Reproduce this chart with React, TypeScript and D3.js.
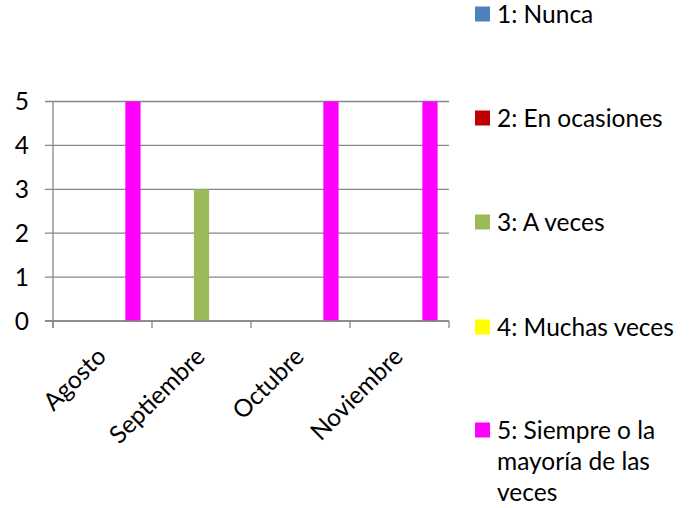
import React, { useEffect, useRef } from 'react';
import * as d3 from 'd3';

const categories = ['Agosto', 'Septiembre', 'Octubre', 'Noviembre'];
const seriesNames = ['1: Nunca', '2: En ocasiones', '3: A veces', '4: Muchas veces', '5: Siempre o la mayoría de las veces'];
const legendLines = [['1: Nunca'], ['2: En ocasiones'], ['3: A veces'], ['4: Muchas veces'], ['5: Siempre o la', 'mayoría de las', 'veces']];
const seriesColors = ['#4F81BD', '#C00000', '#9BBB59', '#FFFF00', '#FF00FF'];
const nunca = [0, 0, 0, 0];
const enOcasiones = [0, 0, 0, 0];
const aVeces = [0, 3, 0, 0];
const muchasVeces = [0, 0, 0, 0];
const siempre = [5, 0, 5, 5];
const yTicks = [0, 1, 2, 3, 4, 5];

const FONT = 'Lato, sans-serif';
const FONT_SIZE = 24.5;

const App = () => {
    const chartRef = useRef(null);

    useEffect(() => {
        document.body.style.margin = '0';
        drawChart();
    }, []);

    const drawChart = () => {
        d3.select(chartRef.current).selectAll('*').remove();

        const width = 691;
        const height = 508;
        const allSeries = [nunca, enOcasiones, aVeces, muchasVeces, siempre];

        const svg = d3.select(chartRef.current)
            .append('svg')
            .attr('width', width)
            .attr('height', height)
            .style('display', 'block')
            .style('font-family', FONT);

        const x0 = d3.scaleBand().domain(categories).range([53, 449]);
        const x1 = d3.scaleBand()
            .domain(seriesNames)
            .range([0, x0.bandwidth()])
            .paddingInner(0)
            .paddingOuter(0.75);
        const y = d3.scaleLinear().domain([0, 5]).range([321, 101.5]);

        // gridlines + tick marks on the value axis
        svg.append('g')
            .selectAll('line')
            .data(yTicks)
            .enter()
            .append('line')
            .attr('x1', 45)
            .attr('x2', 449)
            .attr('y1', d => y(d))
            .attr('y2', d => y(d))
            .attr('stroke', '#868686')
            .attr('stroke-width', 1.3);

        svg.append('g')
            .selectAll('text')
            .data(yTicks)
            .enter()
            .append('text')
            .attr('x', 29)
            .attr('y', d => y(d))
            .attr('dy', '0.36em')
            .attr('text-anchor', 'end')
            .attr('font-size', FONT_SIZE)
            .attr('fill', '#000')
            .text(d => d);

        // bars
        allSeries.forEach((values, si) => {
            svg.append('g')
                .selectAll('rect')
                .data(values.map((v, ci) => ({ v, cat: categories[ci] })))
                .enter()
                .filter(d => d.v > 0)
                .append('rect')
                .attr('x', d => x0(d.cat) + x1(seriesNames[si]))
                .attr('width', x1.bandwidth())
                .attr('y', d => y(d.v))
                .attr('height', d => y(0) - y(d.v))
                .attr('fill', seriesColors[si]);
        });

        // category axis
        svg.append('line')
            .attr('x1', 53).attr('x2', 53)
            .attr('y1', y(5)).attr('y2', y(0) + 7)
            .attr('stroke', '#868686').attr('stroke-width', 1.3);
        svg.append('line')
            .attr('x1', 45).attr('x2', 449)
            .attr('y1', y(0)).attr('y2', y(0))
            .attr('stroke', '#868686').attr('stroke-width', 1.3);
        const tickXs = categories.map(c => x0(c)).concat([449]);
        svg.append('g')
            .selectAll('line')
            .data(tickXs)
            .enter()
            .append('line')
            .attr('x1', d => d).attr('x2', d => d)
            .attr('y1', y(0)).attr('y2', y(0) + 7)
            .attr('stroke', '#868686').attr('stroke-width', 1.3);

        svg.append('g')
            .selectAll('text')
            .data(categories)
            .enter()
            .append('text')
            .attr('transform', d => `translate(${x0(d) + x0.bandwidth() / 2 + 5}, 358) rotate(-45)`)
            .attr('text-anchor', 'end')
            .attr('font-size', FONT_SIZE)
            .attr('fill', '#000')
            .text(d => d);

        // legend
        const legendY = [14, 118, 222, 327, 430];
        const legend = svg.append('g');
        legendLines.forEach((lines, i) => {
            const g = legend.append('g').attr('transform', `translate(475, ${legendY[i]})`);
            g.append('rect')
                .attr('x', 0)
                .attr('y', -7.5)
                .attr('width', 15)
                .attr('height', 15)
                .attr('fill', seriesColors[i]);
            const t = g.append('text')
                .attr('font-size', FONT_SIZE)
                .attr('fill', '#000');
            lines.forEach((line, li) => {
                t.append('tspan')
                    .attr('x', 22)
                    .attr('y', li * 31)
                    .attr('dy', '0.38em')
                    .text(line);
            });
        });
    };

    return (
        <div ref={chartRef}></div>
    );
};

export default App;
